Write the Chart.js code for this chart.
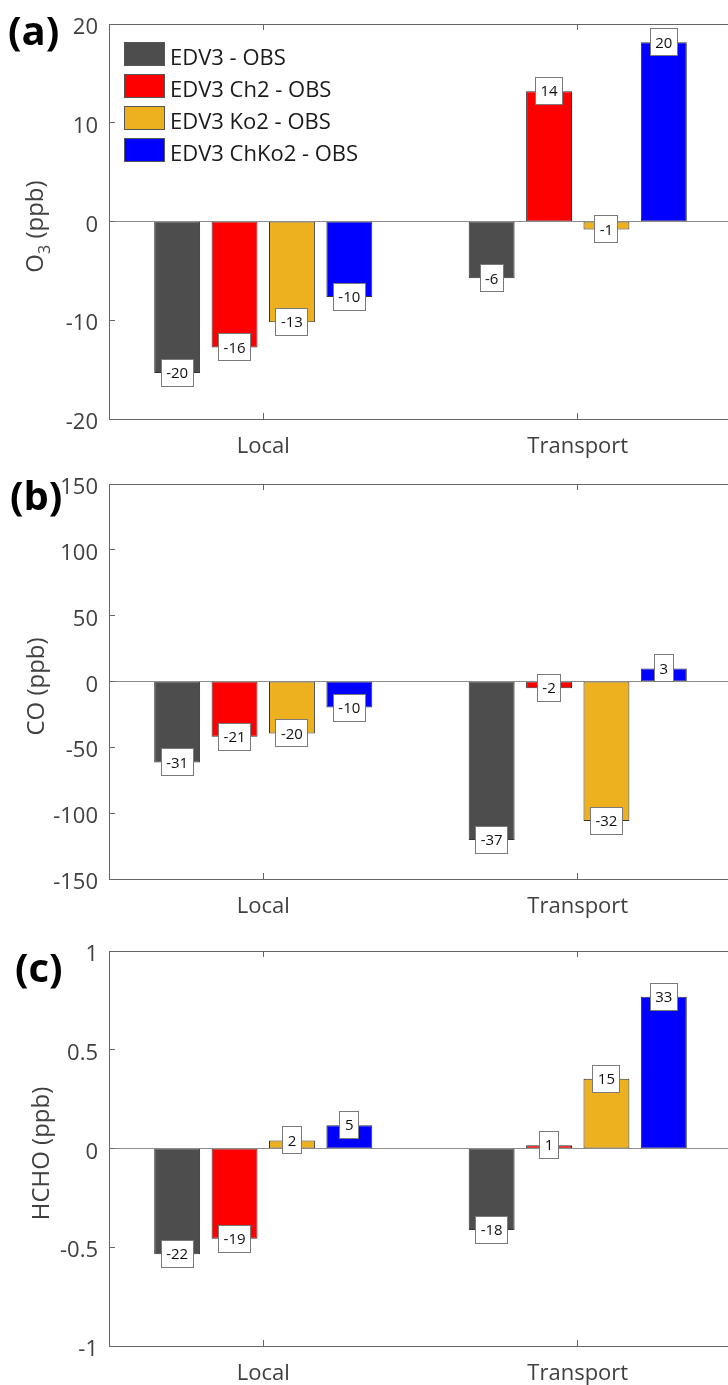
<!DOCTYPE html>
<html><head><meta charset="utf-8">
<script src="https://cdn.jsdelivr.net/npm/chart.js@4.4.1/dist/chart.umd.min.js"></script>
<style>
html,body{margin:0;padding:0;background:#fff;}
#wrap{position:relative;width:728px;height:1385px;overflow:hidden;background:#fff;}
canvas{position:absolute;left:0;}
</style></head><body>
<div id="wrap">
<canvas id="ca" width="760" height="460" style="top:0;width:760px;height:460px"></canvas>
<canvas id="cb" width="760" height="460" style="top:460px;width:760px;height:460px"></canvas>
<canvas id="cc" width="760" height="465" style="top:920px;width:760px;height:465px"></canvas>
</div>
<script>
// ---------- data ----------
const categories = ['Local', 'Transport'];
const seriesNames = ['EDV3 - OBS', 'EDV3 Ch2 - OBS', 'EDV3 Ko2 - OBS', 'EDV3 ChKo2 - OBS'];
const seriesColors = ['#4d4d4d', '#ff0000', '#edb120', '#0000ff'];

// (a) O3 (ppb)
const o3EDV3   = [-15.35, -5.75];
const o3Ch2    = [-12.75, 13.2];
const o3Ko2    = [-10.2, -0.8];
const o3ChKo2  = [-7.65, 18.15];
const o3LabEDV3  = ['-20', '-6'];
const o3LabCh2   = ['-16', '14'];
const o3LabKo2   = ['-13', '-1'];
const o3LabChKo2 = ['-10', '20'];
const o3Ticks = [-20, -10, 0, 10, 20];

// (b) CO (ppb)
const coEDV3   = [-61.5, -120.3];
const coCh2    = [-42.0, -5.1];
const coKo2    = [-39.4, -105.9];
const coChKo2  = [-19.8, 9.9];
const coLabEDV3  = ['-31', '-37'];
const coLabCh2   = ['-21', '-2'];
const coLabKo2   = ['-20', '-32'];
const coLabChKo2 = ['-10', '3'];
const coTicks = [-150, -100, -50, 0, 50, 100, 150];

// (c) HCHO (ppb)
const hchoEDV3   = [-0.535, -0.413];
const hchoCh2    = [-0.457, 0.017];
const hchoKo2    = [0.041, 0.353];
const hchoChKo2  = [0.118, 0.768];
const hchoLabEDV3  = ['-22', '-18'];
const hchoLabCh2   = ['-19', '1'];
const hchoLabKo2   = ['2', '15'];
const hchoLabChKo2 = ['5', '33'];
const hchoTicks = [-1, -0.5, 0, 0.5, 1];

// x-limits of the axes box (in category-index units)
const xLimits = [-0.49, 1.5];

// ---------- drawing ----------
const FONT = "'Open Sans', 'Noto Sans', sans-serif";

function hline(ctx, x1, x2, y) { const yy = Math.floor(y) + 0.5; ctx.beginPath(); ctx.moveTo(x1, yy); ctx.lineTo(x2, yy); ctx.stroke(); }
function vline(ctx, x, y1, y2) { const xx = Math.floor(x) + 0.5; ctx.beginPath(); ctx.moveTo(xx, y1); ctx.lineTo(xx, y2); ctx.stroke(); }

function panelPlugin(cfg) {
  return {
    id: 'panel',
    afterDatasetsDraw(chart) {
      const ctx = chart.ctx, a = chart.chartArea, xs = chart.scales.x, ys = chart.scales.y;
      const L = Math.floor(xs.getPixelForValue(xLimits[0]));
      const R = Math.floor(xs.getPixelForValue(xLimits[1]));
      const T = a.top, B = a.bottom;
      ctx.save();
      // baseline at zero
      ctx.strokeStyle = '#8c8c8c'; ctx.lineWidth = 1;
      hline(ctx, L, R, ys.getPixelForValue(0));
      // axes box
      ctx.strokeStyle = '#666';
      hline(ctx, L, R, T);
      hline(ctx, L, R, B);
      vline(ctx, L, T, B + 1);
      vline(ctx, R, T, B + 1);
      const tl = 6;
      cfg.ticks.forEach(v => {
        const y = ys.getPixelForValue(v);
        hline(ctx, L, L + tl, y);
        hline(ctx, R - tl, R, y);
      });
      categories.forEach((c, i) => {
        const x = xs.getPixelForValue(i);
        vline(ctx, x, T, T + tl);
        vline(ctx, x, B - tl, B);
      });
      // tick labels
      ctx.fillStyle = '#404040';
      ctx.font = '22px ' + FONT;
      ctx.textAlign = 'right'; ctx.textBaseline = 'alphabetic';
      cfg.ticks.forEach(v => {
        ctx.fillText(String(v), L - 11, ys.getPixelForValue(v) + 10);
      });
      ctx.textAlign = 'center';
      categories.forEach((c, i) => {
        ctx.fillText(c, xs.getPixelForValue(i), B + 34);
      });
      // y title
      ctx.save();
      const cy = (T + B) / 2 + 5;
      ctx.translate(cfg.titleX, cy);
      ctx.rotate(-Math.PI / 2);
      ctx.textAlign = 'left';
      let total = 0;
      cfg.title.forEach(p => { ctx.font = (p.sub ? '16px ' : '24px ') + FONT; total += ctx.measureText(p.t).width; });
      let px = -total / 2;
      cfg.title.forEach(p => {
        ctx.font = (p.sub ? '16px ' : '24px ') + FONT;
        ctx.fillText(p.t, px, p.sub ? 7 : 0);
        px += ctx.measureText(p.t).width;
      });
      ctx.restore();
      // panel letter
      ctx.fillStyle = '#000';
      ctx.font = 'bold 40px ' + FONT;
      ctx.textAlign = 'left';
      ctx.fillText(cfg.letter, cfg.letterX, cfg.letterY);
      // value label boxes
      ctx.font = '15px ' + FONT;
      ctx.textAlign = 'center'; ctx.textBaseline = 'middle';
      chart.data.datasets.forEach((ds, k) => {
        const meta = chart.getDatasetMeta(k);
        meta.data.forEach((bar, i) => {
          const txt = ds.valueLabels[i];
          const w = Math.round(ctx.measureText(txt).width + 11), h = 28;
          const x0 = Math.round(bar.x - w / 2), y0 = Math.round(bar.y - h / 2);
          ctx.fillStyle = '#fff';
          ctx.fillRect(x0, y0, w, h);
          ctx.strokeStyle = '#7a7a7a';
          ctx.strokeRect(x0 + 0.5, y0 + 0.5, w - 1, h - 1);
          ctx.fillStyle = '#111';
          ctx.fillText(txt, bar.x, bar.y + 1);
        });
      });
      // legend
      if (cfg.legend) {
        const lx = L + 15, ly = T + 18;
        ctx.textAlign = 'left'; ctx.textBaseline = 'alphabetic';
        ctx.font = '22px ' + FONT;
        chart.data.datasets.forEach((ds, k) => {
          const y = ly + k * 32;
          ctx.fillStyle = ds.backgroundColor;
          ctx.fillRect(lx, y, 41, 24);
          ctx.strokeStyle = '#555';
          ctx.strokeRect(lx + 0.5, y + 0.5, 40, 23);
          ctx.fillStyle = '#1a1a1a';
          ctx.fillText(ds.label, lx + 46, y + 23);
        });
      }
      ctx.restore();
    }
  };
}

function makePanel(id, cfg) {
  return new Chart(document.getElementById(id), {
    type: 'bar',
    data: {
      labels: categories,
      datasets: cfg.series.map((vals, k) => ({
        label: seriesNames[k],
        data: vals,
        backgroundColor: seriesColors[k],
        borderColor: '#333',
        borderWidth: 1,
        borderSkipped: false,
        categoryPercentage: 0.73,
        barPercentage: 0.8,
        valueLabels: cfg.labels[k]
      }))
    },
    options: {
      responsive: false, animation: false, devicePixelRatio: 1,
      layout: { padding: cfg.pad },
      plugins: { legend: { display: false }, tooltip: { enabled: false } },
      scales: {
        x: { type: 'category', display: false, offset: true },
        y: { type: 'linear', display: false, min: cfg.ticks[0], max: cfg.ticks[cfg.ticks.length - 1] }
      }
    },
    plugins: [panelPlugin(cfg)]
  });
}

makePanel('ca', {
  series: [o3EDV3, o3Ch2, o3Ko2, o3ChKo2],
  labels: [o3LabEDV3, o3LabCh2, o3LabKo2, o3LabChKo2],
  ticks: o3Ticks,
  pad: { left: 106, right: 25, top: 24, bottom: 41 },
  title: [{ t: 'O' }, { t: '3', sub: true }, { t: ' (ppb)' }],
  titleX: 43, letter: '(a)', letterX: 8, letterY: 45, legend: true
});
makePanel('cb', {
  series: [coEDV3, coCh2, coKo2, coChKo2],
  labels: [coLabEDV3, coLabCh2, coLabKo2, coLabChKo2],
  ticks: coTicks,
  pad: { left: 106, right: 25, top: 24, bottom: 41 },
  title: [{ t: 'CO (ppb)' }],
  titleX: 44, letter: '(b)', letterX: 10, letterY: 50, legend: false
});
makePanel('cc', {
  series: [hchoEDV3, hchoCh2, hchoKo2, hchoChKo2],
  labels: [hchoLabEDV3, hchoLabCh2, hchoLabKo2, hchoLabChKo2],
  ticks: hchoTicks,
  pad: { left: 106, right: 25, top: 31, bottom: 39 },
  title: [{ t: 'HCHO (ppb)' }],
  titleX: 49, letter: '(c)', letterX: 15, letterY: 62, legend: false
});
</script>
</body></html>
